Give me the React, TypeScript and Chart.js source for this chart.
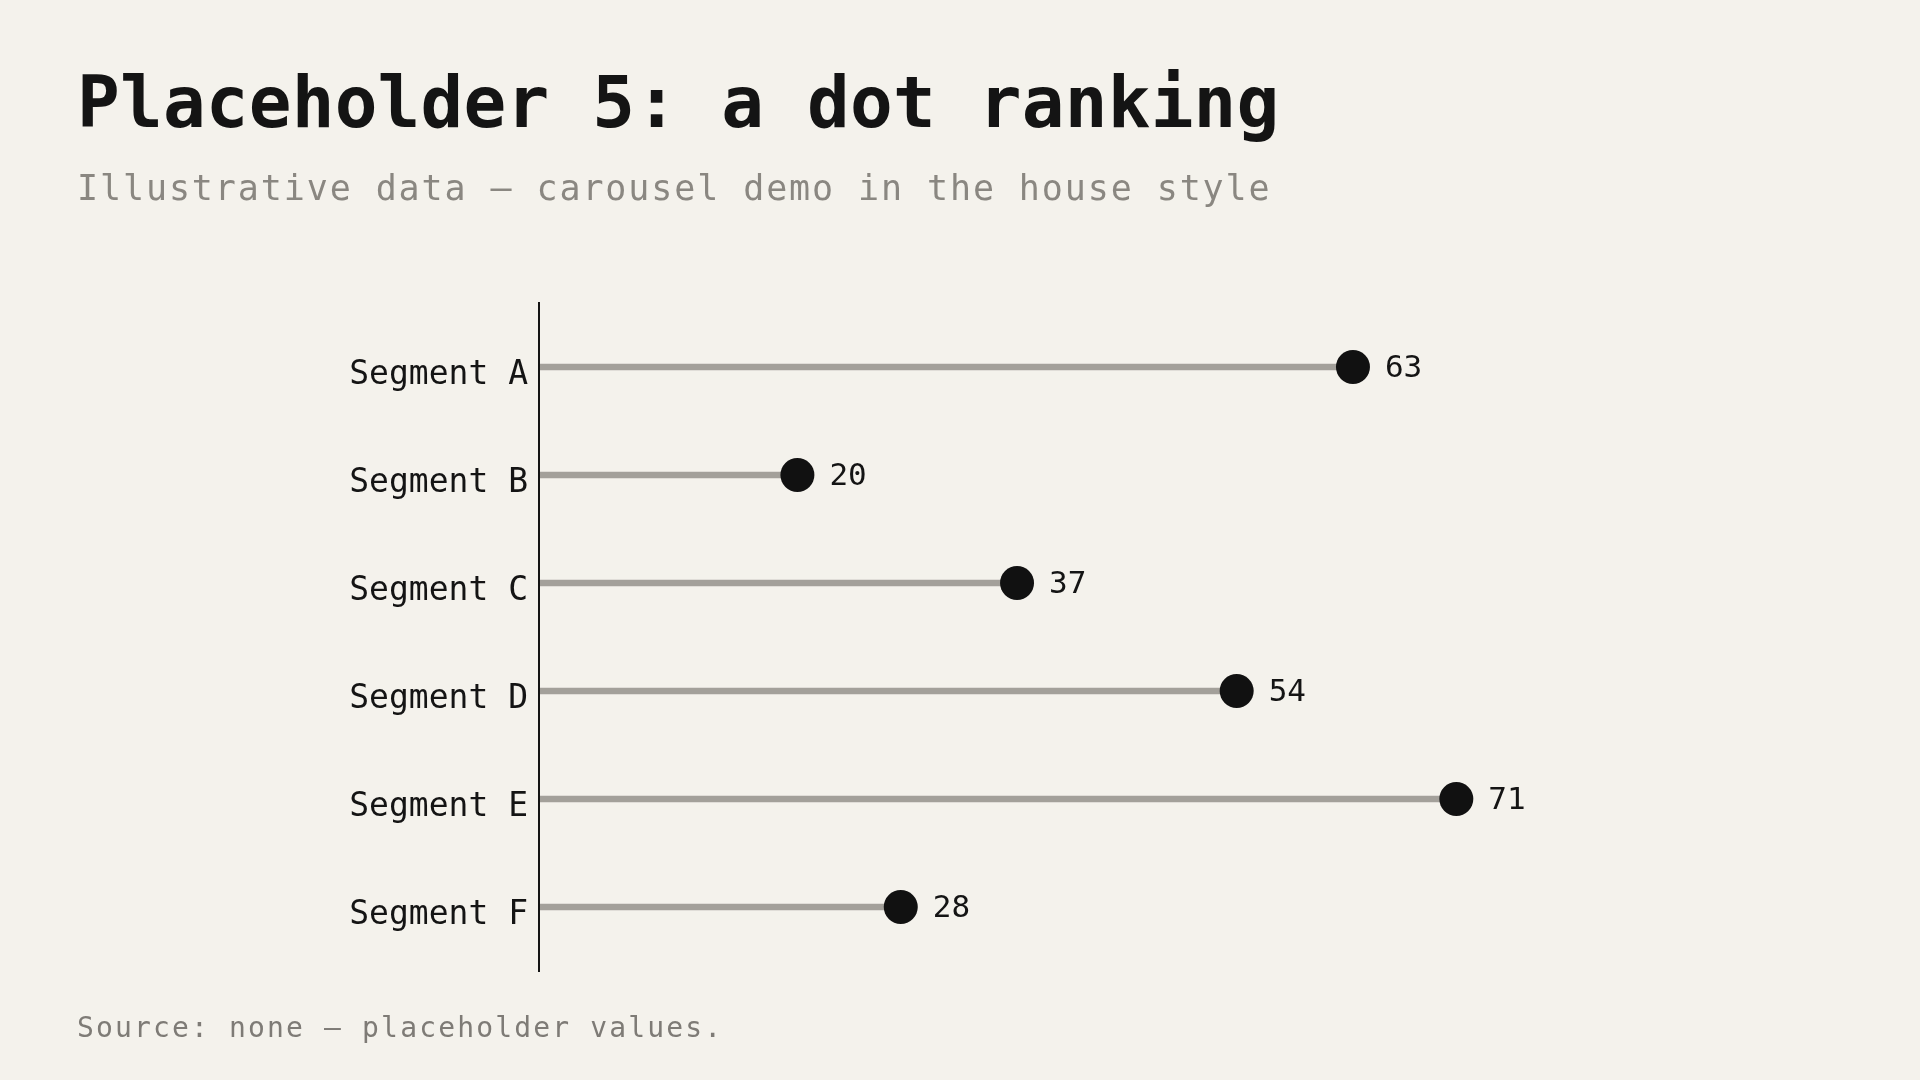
import { useEffect, useRef } from 'react';
import { Chart, registerables } from 'chart.js';
import type { Plugin } from 'chart.js';

Chart.register(...registerables);

const SEGMENTS = ['Segment A', 'Segment B', 'Segment C', 'Segment D', 'Segment E', 'Segment F'];
const VALUES = [63, 20, 37, 54, 71, 28];
const X_MIN = 0;
const X_MAX = 100;

const TITLE = 'Placeholder 5: a dot ranking';
const SUBTITLE = 'Illustrative data — carousel demo in the house style';
const SOURCE = 'Source: none — placeholder values.';

const MONO = "'DejaVu Sans Mono', 'Liberation Mono', monospace";
const BG = '#f4f2ec';
const INK = '#141414';
const STEM = '#a3a09a';

// axis line (slightly longer than the category band) + value labels next to the dots
const lollipopExtras: Plugin<'bar'> = {
  id: 'lollipopExtras',
  afterDatasetsDraw(chart) {
    const { ctx, chartArea } = chart;
    ctx.save();
    ctx.strokeStyle = INK;
    ctx.lineWidth = 2;
    ctx.beginPath();
    ctx.moveTo(chartArea.left, chartArea.top - 11);
    ctx.lineTo(chartArea.left, chartArea.bottom + 11);
    ctx.stroke();

    const meta = chart.getDatasetMeta(0);
    ctx.fillStyle = INK;
    ctx.font = `31px ${MONO}`;
    ctx.textAlign = 'left';
    ctx.textBaseline = 'middle';
    meta.data.forEach((pt, i) => {
      ctx.fillText(String(VALUES[i]), pt.x + 32, pt.y + 2);
    });
    ctx.restore();
  },
};

function DotRanking() {
  const canvasRef = useRef<HTMLCanvasElement>(null);
  const chartRef = useRef<Chart | null>(null);

  useEffect(() => {
    const canvas = canvasRef.current;
    if (!canvas) return;
    chartRef.current?.destroy();

    chartRef.current = new Chart(canvas, {
      type: 'bar',
      data: {
        labels: SEGMENTS,
        datasets: [
          {
            type: 'line',
            label: 'dots',
            data: VALUES,
            indexAxis: 'y',
            showLine: false,
            pointRadius: 17,
            pointBackgroundColor: '#111111',
            pointBorderWidth: 0,
            order: 0,
          } as any,
          {
            type: 'bar',
            label: 'stems',
            data: VALUES,
            indexAxis: 'y',
            backgroundColor: STEM,
            borderWidth: 0,
            barThickness: 6,
            order: 1,
          },
        ],
      },
      options: {
        indexAxis: 'y',
        responsive: true,
        maintainAspectRatio: false,
        animation: false,
        events: [],
        layout: { padding: { left: 339, right: 89, top: 313, bottom: 119 } },
        plugins: {
          legend: { display: false },
          tooltip: { enabled: false },
        },
        scales: {
          x: {
            type: 'linear',
            min: X_MIN,
            max: X_MAX,
            display: false,
          },
          y: {
            type: 'category',
            offset: true,
            grid: { display: false, drawTicks: false },
            border: { display: false },
            ticks: {
              color: INK,
              padding: 11,
              labelOffset: 8,
              font: { family: MONO, size: 33 },
            },
            afterFit: (scale) => {
              scale.width = 200;
            },
          },
        },
      },
      plugins: [lollipopExtras],
    });

    return () => {
      chartRef.current?.destroy();
      chartRef.current = null;
    };
  }, []);

  return (
    <div style={{ position: 'absolute', left: 0, top: 0, width: 1920, height: 1080 }}>
      <canvas ref={canvasRef} aria-label="Dot ranking chart" />
    </div>
  );
}

export default function App() {
  return (
    <div
      style={{
        position: 'fixed',
        left: 0,
        top: 0,
        width: 1920,
        height: 1080,
        background: BG,
        fontFamily: MONO,
        overflow: 'hidden',
      }}
    >
      <DotRanking />
      <div
        style={{
          position: 'absolute',
          left: 77,
          top: 67,
          fontSize: 71,
          lineHeight: 1,
          fontWeight: 700,
          letterSpacing: 0.2,
          color: INK,
          whiteSpace: 'nowrap',
        }}
      >
        {TITLE}
      </div>
      <div
        style={{
          position: 'absolute',
          left: 77,
          top: 171,
          fontSize: 35,
          lineHeight: 1,
          letterSpacing: 1.9,
          color: '#8a8781',
          whiteSpace: 'nowrap',
        }}
      >
        {SUBTITLE}
      </div>
      <div
        style={{
          position: 'absolute',
          left: 77,
          top: 1014,
          fontSize: 28,
          lineHeight: 1,
          letterSpacing: 2.15,
          color: '#7e7b76',
          whiteSpace: 'nowrap',
        }}
      >
        {SOURCE}
      </div>
    </div>
  );
}
